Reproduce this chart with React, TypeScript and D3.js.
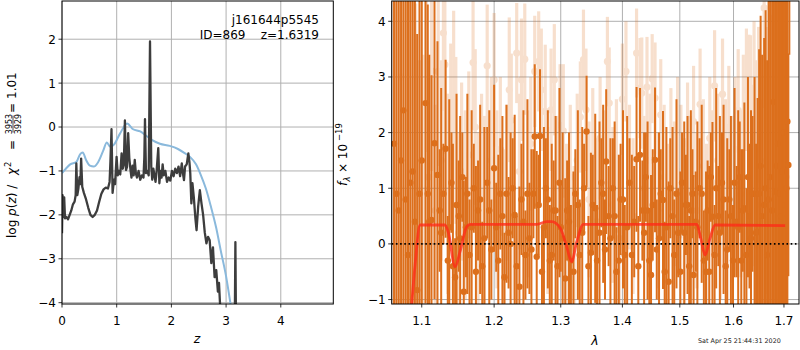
import React from "react";
import * as d3 from "d3";

// ---------- Left panel data: log p(z) ----------
const pzZ = [0.000,0.010,0.025,0.040,0.055,0.080,0.110,0.140,0.170,0.200,0.230,0.250,0.262,0.280,0.300,0.320,0.335,0.350,0.370,0.400,0.440,0.480,0.520,0.560,0.600,0.640,0.680,0.720,0.760,0.800,0.840,0.870,0.885,0.905,0.925,0.950,0.970,0.998,1.020,1.040,1.065,1.090,1.110,1.130,1.150,1.170,1.190,1.210,1.230,1.250,1.270,1.290,1.310,1.330,1.350,1.370,1.400,1.430,1.460,1.490,1.505,1.517,1.535,1.560,1.585,1.609,1.632,1.650,1.670,1.690,1.710,1.730,1.760,1.780,1.800,1.820,1.840,1.860,1.890,1.920,1.950,1.980,2.010,2.040,2.070,2.100,2.130,2.160,2.190,2.210,2.230,2.250,2.280,2.310,2.330,2.345,2.365,2.385,2.410,2.440,2.460,2.490,2.520,2.550,2.580,2.610,2.640,2.670,2.700,2.730,2.760,2.790,2.820,2.850,2.870,2.900,2.920,3.150,3.170,3.190,4.960];
const pzLog = [-2.42,-1.55,-2.05,-1.60,-2.08,-2.05,-2.10,-2.00,-1.90,-1.76,-1.70,-1.55,-0.83,-1.55,-1.40,-1.14,-1.30,-0.72,-1.36,-1.50,-1.65,-1.84,-2.00,-2.05,-2.00,-1.90,-1.70,-1.52,-1.42,-1.38,-1.40,-1.25,-0.80,-0.05,-1.50,-1.20,-1.30,-0.68,-1.10,-1.00,-1.08,-0.60,-0.95,-0.85,0.15,-0.98,-0.90,-0.14,-0.70,-0.95,-1.15,-0.88,-1.10,-0.75,-1.05,-1.15,-1.00,-1.20,-1.10,-1.15,-0.70,0.18,-1.05,-1.00,-1.10,1.95,-0.90,-1.20,-0.95,-1.10,-1.25,-1.00,-0.48,-1.28,-1.00,-1.15,-0.85,-1.10,-1.00,-1.25,-1.15,-1.22,-1.00,-1.12,-0.95,-1.05,-0.90,-1.12,-0.83,-1.05,-1.21,-0.90,-0.85,-0.60,-0.80,-1.05,-1.74,-1.28,-1.60,-2.10,-2.35,-1.80,-1.44,-1.74,-2.00,-2.40,-2.65,-2.50,-2.58,-3.10,-2.74,-3.42,-3.26,-3.75,-3.55,-4.30,-6.0,-6.0,-2.62,-6.0,-6.0];

// prior / template curve
const priorZ = [0.00,0.07,0.15,0.26,0.33,0.38,0.44,0.51,0.58,0.66,0.75,0.82,0.88,0.95,1.06,1.19,1.30,1.43,1.54,1.65,1.79,1.97,2.12,2.25,2.34,2.45,2.54,2.63,2.72,2.82,2.90,3.00,3.09,3.20];
const priorLog = [-1.05,-0.95,-0.85,-0.80,-0.62,-0.58,-0.75,-0.88,-0.90,-0.80,-0.55,-0.35,-0.45,-0.40,-0.15,0.08,-0.05,-0.10,-0.20,-0.30,-0.38,-0.43,-0.50,-0.60,-0.68,-0.85,-1.10,-1.40,-1.80,-2.30,-2.80,-3.40,-4.10,-5.00];

const leftXTicks = [0, 1, 2, 3, 4];
const leftYTicks = [-4, -3, -2, -1, 0, 1, 2];

// ---------- Right panel data: spectrum ----------
// [wavelength (um), flux, error]
const specMain: [number, number, number][] = [
  [1.064,1.8,6.5],[1.067,0.9,6.0],[1.070,0.6,5.8],[1.073,1.5,6.4],[1.076,2.4,7.2],[1.079,0.8,5.5],[1.082,-0.2,5.0],
  [1.085,1.1,5.6],[1.088,1.3,6.0],[1.091,0.4,5.2],[1.094,-0.83,4.6],[1.097,0.9,5.0],
  [1.100,1.5,5.5],[1.105,2.53,3.6],[1.108,0.9,3.4],[1.110,0.4,3.0],[1.113,0.43,2.6],[1.117,1.81,2.8],[1.121,1.24,2.4],
  [1.124,0.6,1.1],[1.126,0.2,2.6],[1.129,0.9,0.9],[1.132,1.71,1.6],[1.135,-0.3,0.8],[1.137,0.3,2.3],[1.140,1.1,0.9],[1.142,-0.4,2.2],
  [1.145,-0.6,0.7],[1.147,0.7,2.0],[1.150,0.5,1.0],[1.152,0.1,2.2],[1.155,1.2,0.8],
  [1.157,-0.86,2.0],[1.160,0.3,0.9],[1.162,0.9,1.8],[1.165,-0.2,1.0],[1.168,0.3,2.1],[1.171,1.0,0.8],[1.174,-0.5,1.9],
  [1.177,0.6,0.9],[1.180,0.8,1.7],[1.183,-0.4,0.8],[1.186,0.1,2.0],[1.190,1.1,1.0],
  [1.193,0.6,1.8],[1.196,-0.1,0.9],[1.200,1.36,1.5],[1.203,0.3,0.8],[1.206,-0.3,1.9],[1.209,0.9,1.0],[1.212,0.5,1.8],[1.215,-0.6,0.8],
  [1.218,0.9,1.6],[1.221,0.2,1.0],[1.224,0.0,2.0],[1.227,1.0,0.9],
  [1.230,0.52,1.8],[1.233,-0.4,0.9],[1.237,-0.77,1.8],[1.240,0.8,1.0],[1.243,0.4,2.0],[1.246,-0.2,0.8],[1.249,0.9,1.7],[1.252,0.1,1.0],
  [1.255,-0.1,1.8],[1.258,0.9,0.8],[1.260,1.93,1.3],
  [1.263,-0.23,1.9],[1.266,0.7,0.9],[1.268,1.94,1.2],[1.271,-0.5,0.8],[1.274,0.3,1.8],[1.277,1.0,0.9],[1.280,0.8,1.6],[1.283,-0.3,1.0],
  [1.286,-0.2,2.0],[1.289,0.6,0.9],[1.292,0.6,1.7],[1.295,-0.4,0.9],
  [1.298,1.1,1.7],[1.300,0.3,0.8],[1.303,0.1,1.9],[1.307,-0.62,1.8],[1.310,0.6,0.9],[1.313,0.4,1.6],[1.316,-0.3,1.0],[1.320,-0.5,1.8],
  [1.323,0.9,0.8],[1.327,0.7,1.7],[1.330,-0.2,1.0],
  [1.334,0.2,1.9],[1.337,1.0,0.8],[1.341,2.02,1.0],[1.344,-0.4,0.9],[1.348,-0.16,1.8],[1.351,0.7,0.9],[1.355,0.64,1.7],[1.358,-0.3,1.0],
  [1.362,0.2,2.0],[1.365,1.1,0.8],[1.368,0.9,1.6],[1.371,-0.1,0.9],
  [1.373,1.48,1.3],[1.377,0.5,0.9],[1.380,0.1,1.8],[1.384,1.0,0.9],[1.387,0.5,1.7],[1.390,-0.5,0.8],[1.394,-0.3,1.9],[1.397,0.8,1.0],
  [1.401,0.8,1.6],[1.404,-0.2,0.9],[1.408,0.3,2.0],[1.412,1.1,0.8],
  [1.416,-0.2,1.8],[1.420,0.4,1.0],[1.424,1.52,1.3],[1.427,-0.4,0.9],[1.430,1.6,1.2],[1.434,0.6,0.9],[1.437,0.2,1.8],[1.440,1.2,0.8],
  [1.443,0.6,1.6],[1.446,-0.3,0.9],[1.449,-0.56,1.8],[1.452,0.7,1.0],
  [1.456,1.51,1.3],[1.459,-0.1,0.9],[1.463,0.1,1.9],[1.466,0.9,0.8],[1.470,0.79,1.6],[1.473,-0.5,0.9],[1.476,0.3,1.8],[1.480,-0.68,1.8],
  [1.483,1.0,0.9],[1.487,0.5,1.6],[1.490,-0.2,1.0],
  [1.494,0.9,1.7],[1.497,0.2,0.8],[1.501,-0.5,1.8],[1.504,1.1,0.9],[1.508,0.2,2.0],[1.511,0.7,0.9],[1.514,0.7,1.6],[1.517,-0.4,0.9],
  [1.520,0.6,1.8],[1.523,0.9,0.8],[1.525,-0.56,1.8],
  [1.529,0.4,0.9],[1.532,0.3,1.9],[1.536,1.0,0.9],[1.540,0.9,1.6],[1.544,-0.3,0.9],[1.548,-0.5,1.8],[1.551,0.6,0.9],[1.554,-0.5,1.9],
  [1.557,1.2,0.8],[1.560,0.49,1.7],[1.564,-0.2,0.9],[1.567,1.0,1.8],
  [1.571,0.5,0.9],[1.574,0.2,2.1],[1.578,1.1,0.9],[1.581,0.8,1.7],[1.585,-0.4,1.0],[1.588,-0.1,2.0],[1.592,0.8,0.9],[1.595,0.5,1.8],
  [1.599,-0.3,1.0],[1.602,1.1,1.7],[1.606,0.4,1.0],[1.609,0.3,2.1],
  [1.612,1.2,1.0],[1.615,-0.3,2.0],[1.618,0.6,1.1],[1.621,0.64,1.9],[1.625,-0.2,1.2],[1.628,1.2,1.8],[1.631,0.5,1.3],[1.634,0.1,2.3],
  [1.637,0.9,1.4],[1.641,0.9,2.1],[1.644,0.2,1.6],[1.647,0.22,2.4],
  [1.650,0.9,2.6],[1.653,1.4,2.7],[1.656,0.5,2.9],[1.660,0.7,3.0],[1.663,1.0,3.2],[1.666,-0.2,3.5],[1.669,0.8,4.0],[1.672,1.2,4.3],
  [1.676,0.6,4.5],[1.679,2.55,5.0],[1.682,0.94,4.5],
  [1.685,1.4,5.5],[1.688,1.8,6.0],[1.691,0.9,5.8],[1.694,0.5,5.0],[1.697,1.3,6.0],[1.700,2.0,6.5],[1.703,0.7,5.5],[1.705,1.0,5.5],
  [1.707,2.2,6.0],[1.709,1.42,2.0],[1.711,6.5,3.1]
];

const specAlt: [number, number, number][] = [
  [1.062,2.0,5.0],[1.067,0.5,4.5],[1.073,3.0,5.5],[1.079,1.0,4.0],[1.085,2.2,4.8],[1.089,2.53,2.2],
  [1.092,1.72,2.6],[1.097,0.3,3.0],[1.102,1.0,2.4],[1.106,3.25,1.6],[1.109,1.2,2.0],[1.113,3.11,1.8],
  [1.118,0.6,1.9],[1.122,3.1,1.7],[1.126,1.5,1.8],[1.129,3.79,1.4],[1.131,3.22,1.6],[1.135,0.9,1.8],
  [1.139,1.9,1.7],[1.143,2.59,1.6],[1.146,1.86,1.5],[1.150,0.2,1.8],[1.154,1.3,1.6],[1.159,0.7,1.7],
  [1.164,1.6,1.5],[1.170,3.26,1.2],[1.173,2.1,1.4],[1.177,0.4,1.6],[1.182,1.2,1.5],[1.186,0.6,1.7],
  [1.190,3.2,1.1],[1.196,1.5,1.5],[1.200,2.95,1.2],[1.204,0.8,1.6],[1.209,1.7,1.3],[1.214,0.2,1.5],
  [1.218,1.1,1.4],[1.222,2.77,1.3],[1.225,2.22,1.2],[1.229,0.5,1.5],[1.233,3.43,0.9],[1.237,1.3,1.4],
  [1.240,2.95,1.1],[1.245,3.32,1.0],[1.250,0.9,1.5],[1.254,1.8,1.2],[1.260,3.1,1.0],[1.266,3.28,0.9],
  [1.270,2.77,1.1],[1.276,2.38,1.2],[1.280,0.6,1.5],[1.285,2.41,1.1],[1.290,2.95,1.0],[1.294,1.0,1.3],
  [1.299,2.13,1.1],[1.304,2.03,1.2],[1.309,0.3,1.5],[1.315,1.2,1.3],[1.321,0.0,1.4],[1.326,1.5,1.2],
  [1.331,2.28,1.0],[1.336,3.31,0.9],[1.340,2.41,1.1],[1.345,0.8,1.4],[1.351,1.6,1.2],[1.357,0.4,1.5],
  [1.363,1.9,1.1],[1.369,1.1,1.3],[1.375,3.28,0.8],[1.378,2.53,1.0],[1.384,0.7,1.4],[1.390,1.4,1.2],
  [1.395,0.1,1.5],[1.400,2.6,1.0],[1.406,3.1,0.9],[1.412,1.2,1.3],[1.418,0.5,1.4],[1.424,3.43,0.8],
  [1.430,2.8,0.9],[1.433,2.71,1.0],[1.437,1.0,1.3],[1.442,2.82,0.9],[1.447,1.5,1.2],[1.451,2.97,0.8],
  [1.456,2.62,1.0],[1.461,0.6,1.4],[1.466,2.32,1.0],[1.472,1.2,1.3],[1.478,0.3,1.5],[1.484,1.7,1.1],
  [1.490,0.9,1.3],[1.496,2.0,1.0],[1.502,1.3,1.2],[1.508,0.4,1.5],[1.514,1.8,1.1],[1.519,1.0,1.3],
  [1.525,2.2,1.0],[1.531,0.6,1.4],[1.537,2.51,1.0],[1.543,1.4,1.2],[1.549,0.2,1.6],[1.555,1.9,1.1],
  [1.560,1.1,1.3],[1.564,2.84,1.0],[1.570,1.5,1.2],[1.575,0.5,1.5],[1.579,2.69,1.0],[1.585,1.3,1.3],
  [1.591,2.1,1.1],[1.597,0.8,1.5],[1.603,1.7,1.3],[1.609,2.4,1.1],[1.614,0.9,1.5],[1.619,2.2,1.2],
  [1.625,2.77,1.1],[1.630,2.56,1.2],[1.633,2.45,1.3],[1.637,1.2,1.6],[1.640,2.8,1.2],[1.645,1.8,1.5],
  [1.649,2.5,1.4],[1.654,0.7,1.9],[1.660,4.24,1.8],[1.665,1.5,2.4],[1.670,2.8,2.5],[1.675,1.0,3.0],
  [1.679,4.06,2.0],[1.684,2.4,3.5],[1.690,3.9,2.8],[1.695,1.5,4.0],[1.700,2.8,4.5],[1.704,1.2,3.8]
];

// best-fit model
const modelWave = [1.080,1.0869,1.0912,1.0978,1.1312,1.1358,1.1450,1.1518,1.1611,1.1658,1.2630,1.2783,1.2860,1.2989,1.3094,1.3170,1.3253,1.3358,1.5310,1.5382,1.5462,1.5555,1.5649,1.7024];
const modelFlux = [-2.0,-1.06,-0.38,0.34,0.34,0.20,-0.41,-0.14,0.31,0.35,0.35,0.40,0.40,0.29,-0.05,-0.32,0.04,0.35,0.35,0.10,-0.20,0.10,0.34,0.33];

const rightXTicks = [1.1, 1.2, 1.3, 1.4, 1.5, 1.6, 1.7];
const rightYTicks = [-1, 0, 1, 2, 3, 4];

const FONT = "DejaVu Sans";
const fmt = (v: number) => (v < 0 ? "\u2212" + Math.abs(v) : String(v));

export default function App() {
  const L = { x0: 62, x1: 333.3, y0: 1, y1: 304 };
  const R = { x0: 391.7, x1: 799, y0: 1, y1: 304 };

  const lx = d3.scaleLinear().domain([0, 4.96]).range([L.x0, L.x1]);
  const ly = d3.scaleLinear().domain([-4.03, 2.87]).range([L.y1, L.y0]);
  const rx = d3.scaleLog().domain([1.061, 1.731]).range([R.x0, R.x1]);
  const ry = d3.scaleLinear().domain([-1.08, 4.365]).range([R.y1, R.y0]);

  const pzLine = d3
    .line<number>()
    .x((_, i) => lx(pzZ[i]))
    .y((d) => ly(d))(pzLog) as string;
  const priorLine = d3
    .line<number>()
    .x((_, i) => lx(priorZ[i]))
    .y((d) => ly(d))
    .curve(d3.curveMonotoneX)(priorLog) as string;
  const modelLine = d3
    .line<number>()
    .x((_, i) => rx(modelWave[i]))
    .y((d) => ry(d))
    .curve(d3.curveMonotoneX)(modelFlux) as string;

  const orange = "#dc6f1c";
  const gridC = "#b0b0b0";

  return (
    <svg
      width={800}
      height={350}
      style={{ position: "absolute", left: 0, top: 0, background: "#fff" }}
      fontFamily={FONT}
    >
      <defs>
        <clipPath id="clipL">
          <rect x={L.x0} y={L.y0} width={L.x1 - L.x0} height={L.y1 - L.y0} />
        </clipPath>
        <clipPath id="clipR">
          <rect x={R.x0} y={R.y0} width={R.x1 - R.x0} height={R.y1 - R.y0} />
        </clipPath>
      </defs>
      <rect x={0} y={0} width={800} height={350} fill="#fff" />

      {/* ---------- LEFT PANEL ---------- */}
      <g>
        {leftXTicks.map((t) => (
          <line key={"lgx" + t} x1={lx(t)} x2={lx(t)} y1={L.y0} y2={L.y1} stroke={gridC} strokeWidth={1} />
        ))}
        {leftYTicks.map((t) => (
          <line key={"lgy" + t} x1={L.x0} x2={L.x1} y1={ly(t)} y2={ly(t)} stroke={gridC} strokeWidth={1} />
        ))}
        <g clipPath="url(#clipL)">
          <path d={priorLine} fill="none" stroke="#8ab9dc" strokeWidth={2} />
          <path d={pzLine} fill="none" stroke="#3d3d3d" strokeWidth={2.3} strokeLinejoin="round" />
        </g>
        <rect x={L.x0} y={L.y0} width={L.x1 - L.x0} height={L.y1 - L.y0} fill="none" stroke="#000" strokeWidth={1} />
        {leftXTicks.map((t) => (
          <g key={"ltx" + t}>
            <line x1={lx(t)} x2={lx(t)} y1={L.y1} y2={L.y1 + 3.5} stroke="#000" strokeWidth={0.8} />
            <text x={lx(t)} y={325} fontSize={12} textAnchor="middle">{fmt(t)}</text>
          </g>
        ))}
        {leftYTicks.map((t) => (
          <g key={"lty" + t}>
            <line x1={L.x0 - 3.5} x2={L.x0} y1={ly(t)} y2={ly(t)} stroke="#000" strokeWidth={0.8} />
            <text x={L.x0 - 6} y={ly(t) + 4.4} fontSize={12} textAnchor="end">{fmt(t)}</text>
          </g>
        ))}
        <text x={197} y={343} fontSize={12.5} fontStyle="italic" textAnchor="middle">z</text>
        <text x={319} y={24} fontSize={12} textAnchor="end">j161644p5545</text>
        <text x={319} y={38.5} fontSize={12} textAnchor="end" style={{ whiteSpace: "pre" }}>{"ID=869    z=1.6319"}</text>
        <g transform="translate(16,238) rotate(-90)" fontSize={12}>
          <text x={0} y={0}>
            log <tspan fontStyle="italic">p</tspan>(<tspan fontStyle="italic">z</tspan>) /
          </text>
          <text x={63} y={0} fontStyle="italic">χ</text>
          <text x={71} y={-5} fontSize={8.5}>2</text>
          <text x={88} y={0}>=</text>
          <text x={114} y={-4.5} fontSize={8} textAnchor="middle">3953</text>
          <line x1={105.5} x2={122.5} y1={-3} y2={-3} stroke="#000" strokeWidth={0.7} />
          <text x={114} y={4.5} fontSize={8} textAnchor="middle">3929</text>
          <text x={125} y={0}>=</text>
          <text x={139} y={0}>1.01</text>
        </g>
      </g>

      {/* ---------- RIGHT PANEL ---------- */}
      <g>
        {rightXTicks.map((t) => (
          <line key={"rgx" + t} x1={rx(t)} x2={rx(t)} y1={R.y0} y2={R.y1} stroke={gridC} strokeWidth={1} />
        ))}
        {rightYTicks.map((t) => (
          <line key={"rgy" + t} x1={R.x0} x2={R.x1} y1={ry(t)} y2={ry(t)} stroke={gridC} strokeWidth={1} />
        ))}
        <g clipPath="url(#clipR)">
          <g opacity={0.22}>
            {specAlt.map(([w, f, e], i) => (
              <g key={"a" + i}>
                <line x1={rx(w)} x2={rx(w)} y1={ry(f - e)} y2={ry(f + e)} stroke={orange} strokeWidth={3.2} />
                <circle cx={rx(w)} cy={ry(f)} r={3.6} fill={orange} />
              </g>
            ))}
          </g>
          {specMain.map(([w, f, e], i) => (
            <g key={"m" + i}>
              <line x1={rx(w)} x2={rx(w)} y1={ry(f - e)} y2={ry(f + e)} stroke={orange} strokeWidth={2} />
              <circle cx={rx(w)} cy={ry(f)} r={3.2} fill={orange} />
            </g>
          ))}
          <path d={modelLine} fill="none" stroke="#ff2a18" strokeOpacity={0.78} strokeWidth={2.8} />
          <line x1={R.x0} x2={R.x1} y1={ry(0)} y2={ry(0)} stroke="#000" strokeWidth={1.6} strokeDasharray="1.6,2.6" />
        </g>
        <rect x={R.x0} y={R.y0} width={R.x1 - R.x0} height={R.y1 - R.y0} fill="none" stroke="#000" strokeWidth={1} />
        {rightXTicks.map((t) => (
          <g key={"rtx" + t}>
            <line x1={rx(t)} x2={rx(t)} y1={R.y1} y2={R.y1 + 3.5} stroke="#000" strokeWidth={0.8} />
            <text x={rx(t)} y={325} fontSize={12} textAnchor="middle">{t.toFixed(1)}</text>
          </g>
        ))}
        {rightYTicks.map((t) => (
          <g key={"rty" + t}>
            <line x1={R.x0 - 3.5} x2={R.x0} y1={ry(t)} y2={ry(t)} stroke="#000" strokeWidth={0.8} />
            <text x={R.x0 - 6} y={ry(t) + 4.4} fontSize={12} textAnchor="end">{fmt(t)}</text>
          </g>
        ))}
        <text x={595} y={345} fontSize={12.5} fontStyle="italic" textAnchor="middle">λ</text>
        <g transform="translate(347,186) rotate(-90)" fontSize={12}>
          <text x={0} y={0} fontStyle="italic">f</text>
          <text x={4.5} y={3} fontSize={8.5} fontStyle="italic">λ</text>
          <text x={13} y={0}>× 10</text>
          <text x={45} y={-5} fontSize={8.5}>−19</text>
        </g>
        <text x={698} y={343} fontSize={6.4} fill="#222">Sat Apr 25 21:44:31 2020</text>
      </g>
    </svg>
  );
}
